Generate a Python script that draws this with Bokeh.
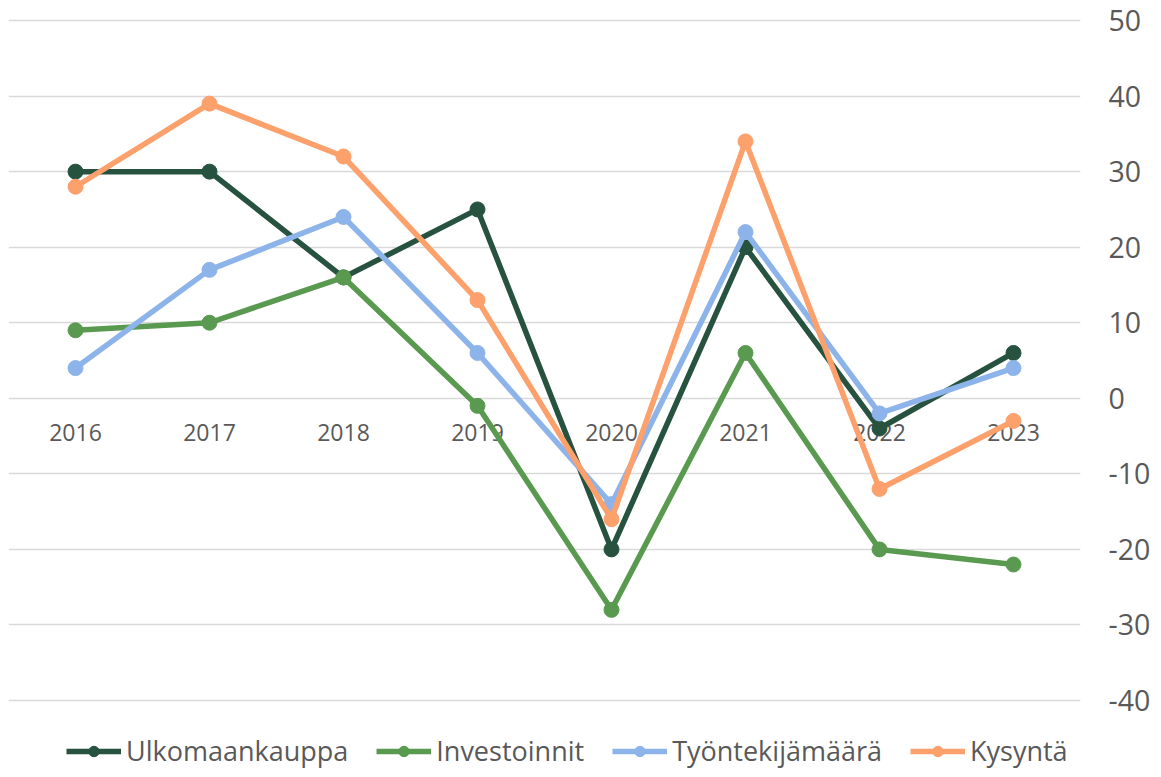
from bokeh.plotting import figure
from bokeh.models import Range1d, FactorRange, ColumnDataSource, Legend, LegendItem, FixedTicker, PrintfTickFormatter
from bokeh.core.properties import value
from bokeh.embed import file_html
from bokeh.resources import INLINE

years = ["2016", "2017", "2018", "2019", "2020", "2021", "2022", "2023"]
ulkomaankauppa = [30, 30, 16, 25, -20, 20, -4, 6]
investoinnit = [9, 10, 16, -1, -28, 6, -20, -22]
tyontekijamaara = [4, 17, 24, 6, -14, 22, -2, 4]
kysynta = [28, 39, 32, 13, -16, 34, -12, -3]

series_names = ["Ulkomaankauppa", "Investoinnit", "Työntekijämäärä", "Kysyntä"]
series_values = [ulkomaankauppa, investoinnit, tyontekijamaara, kysynta]
series_colors = ["#26523F", "#5A9A50", "#8DB4EA", "#FCA06C"]

y_ticks = [-40, -30, -20, -10, 0, 10, 20, 30, 40, 50]

FONT = "Open Sans"
TEXT_COLOR = "#595959"

# frame covers the full figure height; range padded so that 50 and -40 sit inside,
# leaving room for the legend underneath -40
p = figure(width=1153, height=769, x_range=FactorRange(*years), y_range=Range1d(-49.13, 52.65),
           output_backend="svg", toolbar_location=None, x_axis_location=None,
           y_axis_location="right", min_border_left=8, min_border_top=0,
           min_border_bottom=0, min_border_right=70)
p.outline_line_color = None
p.background_fill_color = "white"
p.border_fill_color = "white"

p.xgrid.grid_line_color = None
p.ygrid.grid_line_color = "#D9D9D9"
p.ygrid.grid_line_width = 1.5
p.ygrid.ticker = FixedTicker(ticks=y_ticks)

yax = p.yaxis[0]
yax.ticker = FixedTicker(ticks=y_ticks)
yax.formatter = PrintfTickFormatter(format="%d")
yax.axis_line_color = None
yax.major_tick_line_color = None
yax.minor_tick_line_color = None
yax.major_tick_out = 0
yax.major_tick_in = 0
yax.major_label_standoff = 28
yax.major_label_text_font = FONT
yax.major_label_text_font_size = "28.5px"
yax.major_label_text_color = TEXT_COLOR

# category labels sitting just under the zero line
lab_src = ColumnDataSource(dict(x=years, y=[0] * len(years), t=years))
p.text(x="x", y="y", text="t", source=lab_src, text_font=value(FONT),
       text_font_size="23px", text_color=TEXT_COLOR, text_align="center",
       text_baseline="middle", y_offset=34)

items = []
for name, vals, col in zip(series_names, series_values, series_colors):
    src = ColumnDataSource(dict(x=years, y=vals))
    l = p.line(x="x", y="y", source=src, line_color=col, line_width=5.5, line_join="round")
    s = p.scatter(x="x", y="y", source=src, size=15, fill_color=col, line_color=col)
    items.append(LegendItem(label=name, renderers=[l, s]))

legend = Legend(items=items, orientation="horizontal", location=(58, 0),
                label_text_font=FONT, label_text_font_size="27px",
                label_text_color=TEXT_COLOR, glyph_width=55, glyph_height=26,
                label_height=26, label_standoff=5, spacing=28, padding=0, margin=0,
                border_line_color=None, background_fill_alpha=0)
p.add_layout(legend, "center")

open("out.html", "w").write(file_html(p, INLINE))
